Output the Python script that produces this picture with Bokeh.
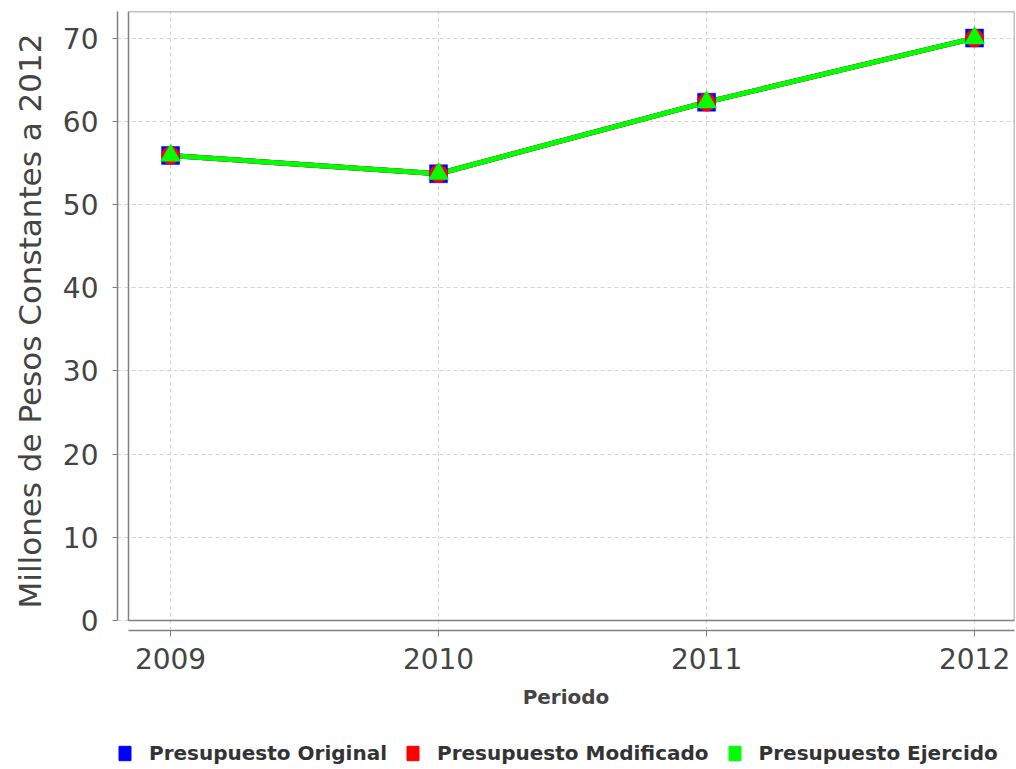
from bokeh.plotting import figure
from bokeh.layouts import column
from bokeh.models import FixedTicker, Range1d, Legend, LegendItem, BoxAnnotation
from bokeh.embed import file_html
from bokeh.resources import INLINE

# ---- data ----
years = ["2009", "2010", "2011", "2012"]
presupuesto_original = [55.9, 53.7, 62.3, 70.0]
presupuesto_modificado = [55.9, 53.7, 62.3, 70.0]
presupuesto_ejercido = [55.9, 53.7, 62.3, 70.0]
y_ticks = [0, 10, 20, 30, 40, 50, 60, 70]
series_names = ["Presupuesto Original", "Presupuesto Modificado", "Presupuesto Ejercido"]
series_colors = ["#0000ff", "#ff0000", "#00ff00"]
series_markers = ["square", "circle", "triangle"]
y_label = "Millones de Pesos Constantes a 2012"
x_label = "Periodo"

x = list(range(len(years)))
series_values = [presupuesto_original, presupuesto_modificado, presupuesto_ejercido]

FONT = "DejaVu Sans"
AXIS_GRAY = "#808080"
NAN = float("nan")

# plot-area extents (data units); the frame is a little larger so the
# axes sit slightly apart from the plot area, as in the original
X_LO, X_HI = -0.157, 3.149
Y_LO, Y_HI = 0, 73.2

p = figure(
    width=1016, height=730,
    x_range=Range1d(-0.198, X_HI), y_range=Range1d(-1.2, Y_HI),
    output_backend="svg", toolbar_location=None,
    min_border_left=117, min_border_top=11, min_border_right=2, min_border_bottom=100,
    background_fill_color="white", border_fill_color="white",
)
p.outline_line_color = None

# plot area border
p.add_layout(BoxAnnotation(left=X_LO, right=X_HI, bottom=Y_LO, top=Y_HI,
                           fill_color=None, fill_alpha=0,
                           line_color=AXIS_GRAY, line_alpha=1.0, line_width=1.5))

# grids
p.xgrid.ticker = FixedTicker(ticks=x)
p.ygrid.ticker = FixedTicker(ticks=y_ticks)
p.xgrid.bounds = (Y_LO, Y_HI)
p.ygrid.bounds = (X_LO, X_HI)
for g in (p.xgrid[0], p.ygrid[0]):
    g.grid_line_color = "#d4d4d4"
    g.grid_line_dash = "4 3"
    g.grid_line_width = 1

# y axis
ya = p.yaxis[0]
ya.ticker = FixedTicker(ticks=y_ticks)
ya.bounds = (Y_LO, Y_HI)
ya.axis_line_color = AXIS_GRAY
ya.axis_line_width = 1.5
ya.major_tick_line_color = AXIS_GRAY
ya.major_tick_out = 5
ya.major_tick_in = 0
ya.minor_tick_line_color = None
ya.major_label_text_font = FONT
ya.major_label_text_font_size = "28px"
ya.major_label_text_color = "#444444"
ya.major_label_standoff = 14
ya.axis_label = y_label
ya.axis_label_text_font = FONT
ya.axis_label_text_font_size = "31px"
ya.axis_label_text_font_style = "normal"
ya.axis_label_text_color = "#444444"
ya.axis_label_standoff = 12

# x axis
xa = p.xaxis[0]
xa.ticker = FixedTicker(ticks=x)
xa.bounds = (X_LO, X_HI)
xa.major_label_overrides = {i: years[i] for i in x}
xa.axis_line_color = AXIS_GRAY
xa.axis_line_width = 1.5
xa.major_tick_line_color = AXIS_GRAY
xa.major_tick_out = 6
xa.major_tick_in = 0
xa.minor_tick_line_color = None
xa.major_label_text_font = FONT
xa.major_label_text_font_size = "28px"
xa.major_label_text_color = "#444444"
xa.major_label_standoff = 11
xa.axis_label = x_label
xa.axis_label_text_font = FONT
xa.axis_label_text_font_size = "20px"
xa.axis_label_text_font_style = "bold"
xa.axis_label_text_color = "#444444"
xa.axis_label_standoff = 13

# lines then markers
for vals, color in zip(series_values, series_colors):
    p.line(x, vals, line_color=color, line_width=5)
for vals, color, mk in zip(series_values, series_colors, series_markers):
    size = 20 if mk == "triangle" else 18
    p.scatter(x, vals, marker=mk, size=size, fill_color=color, line_color=color, line_width=0.5)

# ---- legend strip (square swatches) ----
lg = figure(
    width=1016, height=39,
    x_range=Range1d(0, 1), y_range=Range1d(0, 1),
    x_axis_location=None, y_axis_location=None,
    output_backend="svg", toolbar_location=None,
    min_border_left=0, min_border_right=0, min_border_top=7, min_border_bottom=0,
    background_fill_color="white", border_fill_color="white",
)
lg.outline_line_color = None
lg.grid.visible = False
items = []
for name, color in zip(series_names, series_colors):
    # swatch-only renderer: no drawable geometry, used for the legend key
    r = lg.quad(left=[NAN], right=[NAN], top=[NAN], bottom=[NAN],
                fill_color=color, line_color=color)
    items.append(LegendItem(label=name, renderers=[r]))
legend = Legend(
    items=items, orientation="horizontal", location="center_left",
    label_text_font=FONT, label_text_font_style="bold", label_text_font_size="20px",
    label_text_color="#333333", label_height=20,
    glyph_width=15, glyph_height=18, label_standoff=17, spacing=18,
    padding=0, margin=0, border_line_color=None, background_fill_alpha=0,
)
lg.add_layout(legend)

layout = column(p, lg, spacing=0)
open("out.html", "w").write(file_html(layout, INLINE))
